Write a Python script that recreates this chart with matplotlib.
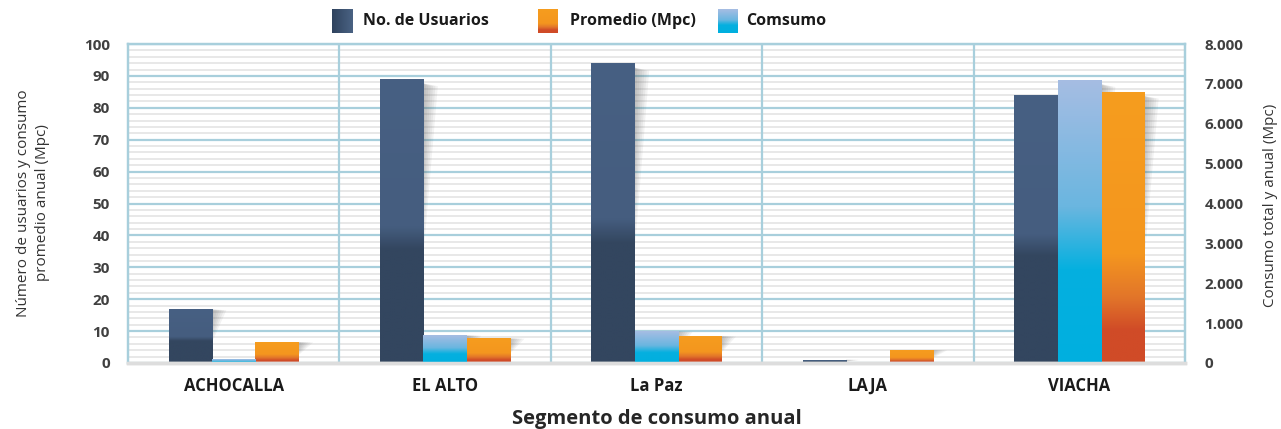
import numpy as np
import matplotlib.pyplot as plt
from matplotlib.colors import LinearSegmentedColormap
from matplotlib.patches import Polygon
from matplotlib.ticker import MultipleLocator

# datos
municipios = ['ACHOCALLA', 'EL ALTO', 'La Paz', 'LAJA', 'VIACHA']
usuarios = [17, 89, 94, 1, 84]
promedio = [6.6, 7.8, 8.5, 4.1, 85]       # Mpc, eje izquierdo
consumo = [100, 700, 800, 10, 7100]       # Mpc, eje derecho
ticks_izq = list(range(0, 101, 10))
ticks_der = list(range(0, 8001, 1000))
etiq_der = [f'{v:,}'.replace(',', '.') for v in ticks_der]
separadores = [0.5, 1.5, 2.5, 3.5]

plt.rcParams['font.family'] = ['Open Sans', 'DejaVu Sans']

azul_grid = '#a8cfdc'
gris_grid = '#e6e6e6'

# degradados (posición desde la base de la barra, color)
g_usuarios = [(0, '#33465f'), (0.40, '#33465f'), (0.48, '#455d7f'), (1, '#476083')]
g_consumo = [(0, '#00afdf'), (0.33, '#05b0df'), (0.55, '#6ab6e0'), (1, '#a6bde3')]
g_promedio = [(0, '#d04b27'), (0.12, '#d04b27'), (0.24, '#e2752a'), (0.4, '#f4961f'), (1, '#f69d1e')]


def degradado(eje, barras, stops, z=2.1):
    cmap = LinearSegmentedColormap.from_list('g', stops)
    grad = np.linspace(0, 1, 256).reshape(-1, 1)
    for b in barras:
        h = b.get_height()
        if h <= 0:
            continue
        x0 = b.get_x()
        im = eje.imshow(grad, cmap=cmap, origin='lower', aspect='auto', zorder=z,
                        extent=[x0, x0 + b.get_width(), 0, h], interpolation='bilinear')
        im.set_clip_path(b)


def sombra(eje, barras, trans):
    # sombra difusa a la derecha de cada barra
    for b in barras:
        r = b.get_x() + b.get_width()
        t = b.get_height()
        n = 6
        for k in range(n):
            f = 1 - k / n
            pts = [(r, t * 0.985), (r + 0.068 * f, t * 0.975), (r, t * (1 - 0.62 * (0.5 + 0.5 * f)))]
            eje.add_patch(Polygon(pts, closed=True, facecolor='#555555', edgecolor='none',
                                  alpha=0.07, zorder=1.5, transform=trans))


fig = plt.figure(figsize=(12.81, 4.29), dpi=100)
ax = fig.add_axes([128 / 1281, 66 / 429, 1057 / 1281, 319 / 429])
ax2 = ax.twinx()

x = np.arange(len(municipios))
w = 0.205
b_us = ax.bar(x - w, usuarios, w, color='#3d5272', zorder=2)
b_pr = ax.bar(x + w, promedio, w, color='#f59c1e', zorder=2)
b_co = ax2.bar(x, consumo, w, color='#6cb6e0', zorder=2)

ax.set_xlim(-0.5, 4.5)
ax.set_ylim(0, 100)
ax2.set_ylim(0, 8000)

sombra(ax, b_us, ax.transData)
sombra(ax, b_pr, ax.transData)
sombra(ax, b_co, ax2.transData)

degradado(ax, b_us, g_usuarios)
degradado(ax, b_pr, g_promedio)
degradado(ax2, b_co, g_consumo)

ax.set_xlim(-0.5, 4.5)
ax.set_ylim(0, 100)
ax2.set_ylim(0, 8000)

# rejilla
ax.set_axisbelow(True)
ax.yaxis.set_minor_locator(MultipleLocator(2))
ax.grid(which='major', axis='y', color=azul_grid, lw=1.6)
ax.grid(which='minor', axis='y', color=gris_grid, lw=1.3)
for s in separadores:
    ax.axvline(s, color=azul_grid, lw=1.6, zorder=0.9)

for a in (ax, ax2):
    for s in ('left', 'right', 'top'):
        a.spines[s].set_color(azul_grid)
        a.spines[s].set_linewidth(1.6)
    a.spines['bottom'].set_color('#dddddd')
    a.spines['bottom'].set_linewidth(2.5)

ax.set_yticks(ticks_izq, [str(v) for v in ticks_izq], fontweight='bold')
ax2.set_yticks(ticks_der, etiq_der, fontweight='bold')
ax.set_xticks(x, municipios, fontweight='bold')
ax.tick_params(axis='y', which='both', length=0, pad=13, labelsize=11, labelcolor='#404040')
ax2.tick_params(axis='y', which='both', length=0, pad=14, labelsize=11, labelcolor='#404040')
ax.tick_params(axis='x', which='both', length=0, pad=10, labelsize=12, labelcolor='#1a1a1a')

ax.set_xlabel('Segmento de consumo anual', fontsize=14.5, fontweight='bold',
              color='#262626', labelpad=10)

fig.text(33 / 1281, 1 - 203 / 429, 'Número de usuarios y consumo\npromedio anual (Mpc)',
         rotation=90, ha='center', va='center', multialignment='center',
         fontsize=11, linespacing=1.45, color='#333333')
fig.text(1270 / 1281, 1 - 205 / 429, 'Consumo total y anual (Mpc)',
         rotation=90, ha='center', va='center', fontsize=11, color='#333333')

# leyenda manual con cuadros en degradado
leyenda = [('No. de Usuarios', 332, 363, 'h', [(0, '#2f435e'), (1, '#4a6283')]),
           ('Promedio (Mpc)', 538, 570, 'v', g_promedio),
           ('Comsumo', 718, 746, 'v', g_consumo)]
for texto, xp, xt, orient, stops in leyenda:
    cax = fig.add_axes([xp / 1281, 1 - 33 / 429, 20 / 1281, 24 / 429])
    cmap = LinearSegmentedColormap.from_list('l', stops)
    if orient == 'h':
        grad = np.linspace(0, 1, 64).reshape(1, -1)
    else:
        grad = np.linspace(0, 1, 64).reshape(-1, 1)
    cax.imshow(grad, cmap=cmap, origin='lower', aspect='auto')
    cax.axis('off')
    fig.text(xt / 1281, 1 - 21 / 429, texto, ha='left', va='center',
             fontsize=11.5, fontweight='bold', color='#1a1a1a')

fig.savefig('out.png', dpi=100)
